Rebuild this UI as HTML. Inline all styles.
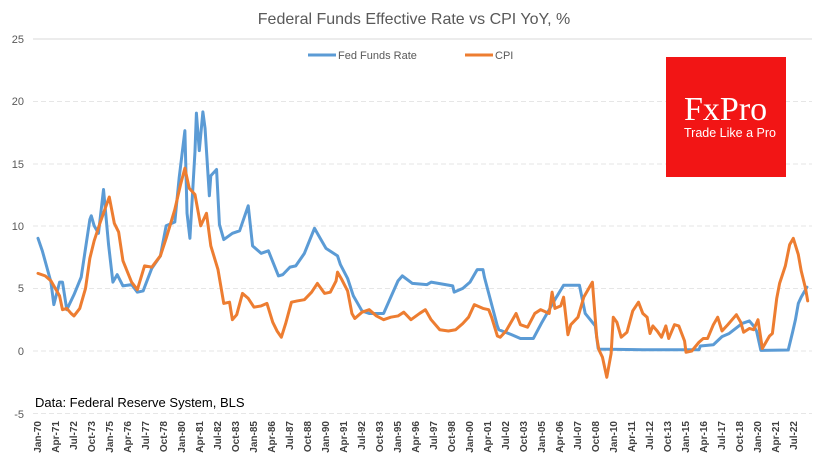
<!DOCTYPE html>
<html><head><meta charset="utf-8"><style>
body{margin:0;background:#fff;}
svg{display:block;font-family:"Liberation Sans",sans-serif;}
</style></head><body>
<svg width="835" height="470" viewBox="0 0 835 470">
<rect width="835" height="470" fill="#fff"/>
<text x="414" y="24" text-anchor="middle" font-size="16" fill="#595959">Federal Funds Effective Rate vs CPI YoY, %</text>
<g stroke="#e6e6e6" stroke-dasharray="5,3" stroke-width="1">
<line x1="33" x2="812" y1="101.5" y2="101.5"/><line x1="33" x2="812" y1="164" y2="164"/>
<line x1="33" x2="812" y1="226" y2="226"/><line x1="33" x2="812" y1="288.5" y2="288.5"/>
<line x1="33" x2="812" y1="351" y2="351"/><line x1="33" x2="812" y1="413.5" y2="413.5"/>
</g>
<line x1="33" x2="812" y1="39" y2="39" stroke="#d9d9d9"/>
<g font-size="11" fill="#595959" text-anchor="end">
<text x="24" y="43">25</text><text x="24" y="105">20</text><text x="24" y="168">15</text>
<text x="24" y="230">10</text><text x="24" y="292">5</text><text x="24" y="355">0</text><text x="24" y="418">-5</text>
</g>
<line x1="308" x2="336" y1="55" y2="55" stroke="#5b9bd5" stroke-width="3"/>
<text x="338" y="59" font-size="11" fill="#595959">Fed Funds Rate</text>
<line x1="465" x2="493" y1="55" y2="55" stroke="#ed7d31" stroke-width="3"/>
<text x="495" y="59" font-size="11" fill="#595959">CPI</text>
<rect x="666" y="57" width="120" height="120" fill="#f21515"/>
<text x="684" y="120" font-family="Liberation Serif,serif" font-size="34" fill="#fff">FxPro</text>
<text x="684" y="137" font-size="12.5" fill="#fff">Trade Like a Pro</text>
<text x="35" y="407" font-size="13" fill="#000">Data: Federal Reserve System, BLS</text>
<g transform="translate(38,351) scale(14.4,-12.52)" fill="none" stroke-linejoin="round" stroke-linecap="round">
<polyline vector-effect="non-scaling-stroke" stroke="#5b9bd5" stroke-width="3" points="0,9 0.3,8 0.9,5.5 1.1,3.7 1.5,5.5 1.7,5.5 2,3.3 2.5,4.5 3,5.9 3.6,10.5 3.7,10.8 3.9,10 4.2,9.4 4.55,12.9 4.9,8.5 5.2,5.5 5.5,6.1 5.9,5.2 6.5,5.3 6.9,4.7 7.3,4.8 7.9,6.6 8.5,7.6 8.9,10 9.5,10.3 9.8,13.8 10.2,17.6 10.35,11 10.55,9 10.9,15.9 11,19 11.2,16 11.45,19.1 11.6,17.8 11.9,12.4 12,14 12.4,14.5 12.6,10.1 12.9,8.9 13.5,9.4 14,9.6 14.6,11.6 14.9,8.4 15.5,7.8 16,8 16.7,6 17,6.1 17.5,6.7 17.9,6.8 18.5,7.8 19.2,9.8 19.6,9 20,8.2 20.8,7.6 21,6.9 21.5,5.8 21.9,4.4 22.5,3.2 23,3 24,3 24.5,4.3 25,5.6 25.3,6 26,5.4 27,5.3 27.3,5.5 28.8,5.2 28.9,4.7 29.5,5 30,5.5 30.5,6.5 30.9,6.5 31,5.9 31.9,2 32,1.7 32.9,1.3 33.5,1 34.4,1 35,2.3 36,4.3 36.5,5.25 37.6,5.25 38,3 38.7,2 38.9,0.2 39,0.15 42,0.1 45.9,0.1 46,0.4 46.9,0.5 47.5,1.15 48,1.4 48.9,2.2 49.4,2.4 49.7,2 49.9,1.6 50.2,0.05 52.1,0.08 52.4,1.5 52.6,2.5 52.8,3.8 53,4.3 53.4,5.1"/>
<polyline vector-effect="non-scaling-stroke" stroke="#ed7d31" stroke-width="3" points="0,6.2 0.5,6 0.9,5.6 1.5,4.4 1.7,3.3 2,3.4 2.3,3 2.5,2.8 2.9,3.4 3.3,5 3.6,7.4 3.9,8.8 4.3,10.2 4.7,11.5 4.95,12.3 5.3,10.2 5.6,9.5 5.9,7.2 6.5,5.5 6.9,4.9 7.4,6.8 7.9,6.7 8.5,7.6 8.9,9 9.5,11.3 9.9,13.3 10.2,14.6 10.5,13 10.9,12.5 11.3,10 11.7,11 12,8.4 12.5,6.5 12.9,3.8 13.3,3.9 13.5,2.5 13.8,2.9 14.2,4.6 14.6,4.2 15,3.5 15.5,3.6 15.9,3.8 16.3,2.3 16.6,1.6 16.9,1.1 17.2,2.2 17.6,3.9 18,4 18.5,4.1 19,4.7 19.4,5.4 19.9,4.6 20.3,4.7 20.7,5.6 20.8,6.3 21.1,5.7 21.5,4.8 21.8,3 22,2.6 22.5,3.1 23,3.3 23.5,2.8 24,2.5 24.5,2.7 25,2.8 25.4,3.1 25.9,2.5 26.5,3 26.9,3.3 27.3,2.5 27.9,1.7 28.5,1.6 29,1.7 29.5,2.2 29.9,2.7 30.3,3.7 30.9,3.4 31.3,3.3 31.5,2.7 31.9,1.2 32.1,1.1 32.5,1.6 32.9,2.4 33.2,3 33.5,2.1 34,1.9 34.5,3 34.9,3.3 35.5,3 35.7,4.7 35.9,3.4 36.3,3.6 36.5,4.3 36.8,1.3 37,2.1 37.5,2.7 37.9,4.3 38.5,5.5 38.8,1.1 38.95,0.1 39.2,-0.5 39.5,-2.1 39.8,-0.2 39.95,2.7 40.2,2.3 40.5,1.1 40.9,1.5 41.3,3.2 41.7,3.9 42,3 42.3,2.7 42.5,1.4 42.7,2 43,1.6 43.3,1.1 43.6,2 43.8,1 44.2,2.1 44.5,2 44.9,0.8 45,-0.1 45.4,0 45.9,0.7 46.2,1 46.5,1 46.9,2.1 47.2,2.7 47.5,1.6 47.9,2.1 48.5,2.9 48.8,2.3 49,1.5 49.4,1.8 49.7,1.7 50,2.5 50.3,0.2 50.8,1.2 51,1.4 51.3,4.2 51.5,5.4 51.9,6.8 52.2,8.5 52.45,9 52.8,7.7 53,6.4 53.3,5 53.45,4"/>
</g>
<g font-size="10" font-weight="bold" fill="#404040" text-anchor="end">
<text transform="translate(41,421) rotate(-90)">Jan-70</text><text transform="translate(59,421) rotate(-90)">Apr-71</text><text transform="translate(77,421) rotate(-90)">Jul-72</text><text transform="translate(95,421) rotate(-90)">Oct-73</text><text transform="translate(113,421) rotate(-90)">Jan-75</text><text transform="translate(131,421) rotate(-90)">Apr-76</text><text transform="translate(149,421) rotate(-90)">Jul-77</text><text transform="translate(167,421) rotate(-90)">Oct-78</text><text transform="translate(185,421) rotate(-90)">Jan-80</text><text transform="translate(203,421) rotate(-90)">Apr-81</text><text transform="translate(221,421) rotate(-90)">Jul-82</text><text transform="translate(239,421) rotate(-90)">Oct-83</text><text transform="translate(257,421) rotate(-90)">Jan-85</text><text transform="translate(275,421) rotate(-90)">Apr-86</text><text transform="translate(293,421) rotate(-90)">Jul-87</text><text transform="translate(311,421) rotate(-90)">Oct-88</text><text transform="translate(329,421) rotate(-90)">Jan-90</text><text transform="translate(347,421) rotate(-90)">Apr-91</text><text transform="translate(365,421) rotate(-90)">Jul-92</text><text transform="translate(383,421) rotate(-90)">Oct-93</text><text transform="translate(401,421) rotate(-90)">Jan-95</text><text transform="translate(419,421) rotate(-90)">Apr-96</text><text transform="translate(437,421) rotate(-90)">Jul-97</text><text transform="translate(455,421) rotate(-90)">Oct-98</text><text transform="translate(473,421) rotate(-90)">Jan-00</text><text transform="translate(491,421) rotate(-90)">Apr-01</text><text transform="translate(509,421) rotate(-90)">Jul-02</text><text transform="translate(527,421) rotate(-90)">Oct-03</text><text transform="translate(545,421) rotate(-90)">Jan-05</text><text transform="translate(563,421) rotate(-90)">Apr-06</text><text transform="translate(581,421) rotate(-90)">Jul-07</text><text transform="translate(599,421) rotate(-90)">Oct-08</text><text transform="translate(617,421) rotate(-90)">Jan-10</text><text transform="translate(635,421) rotate(-90)">Apr-11</text><text transform="translate(653,421) rotate(-90)">Jul-12</text><text transform="translate(671,421) rotate(-90)">Oct-13</text><text transform="translate(689,421) rotate(-90)">Jan-15</text><text transform="translate(707,421) rotate(-90)">Apr-16</text><text transform="translate(725,421) rotate(-90)">Jul-17</text><text transform="translate(743,421) rotate(-90)">Oct-18</text><text transform="translate(761,421) rotate(-90)">Jan-20</text><text transform="translate(779,421) rotate(-90)">Apr-21</text><text transform="translate(797,421) rotate(-90)">Jul-22</text>
</g>
</svg>
</body></html>
